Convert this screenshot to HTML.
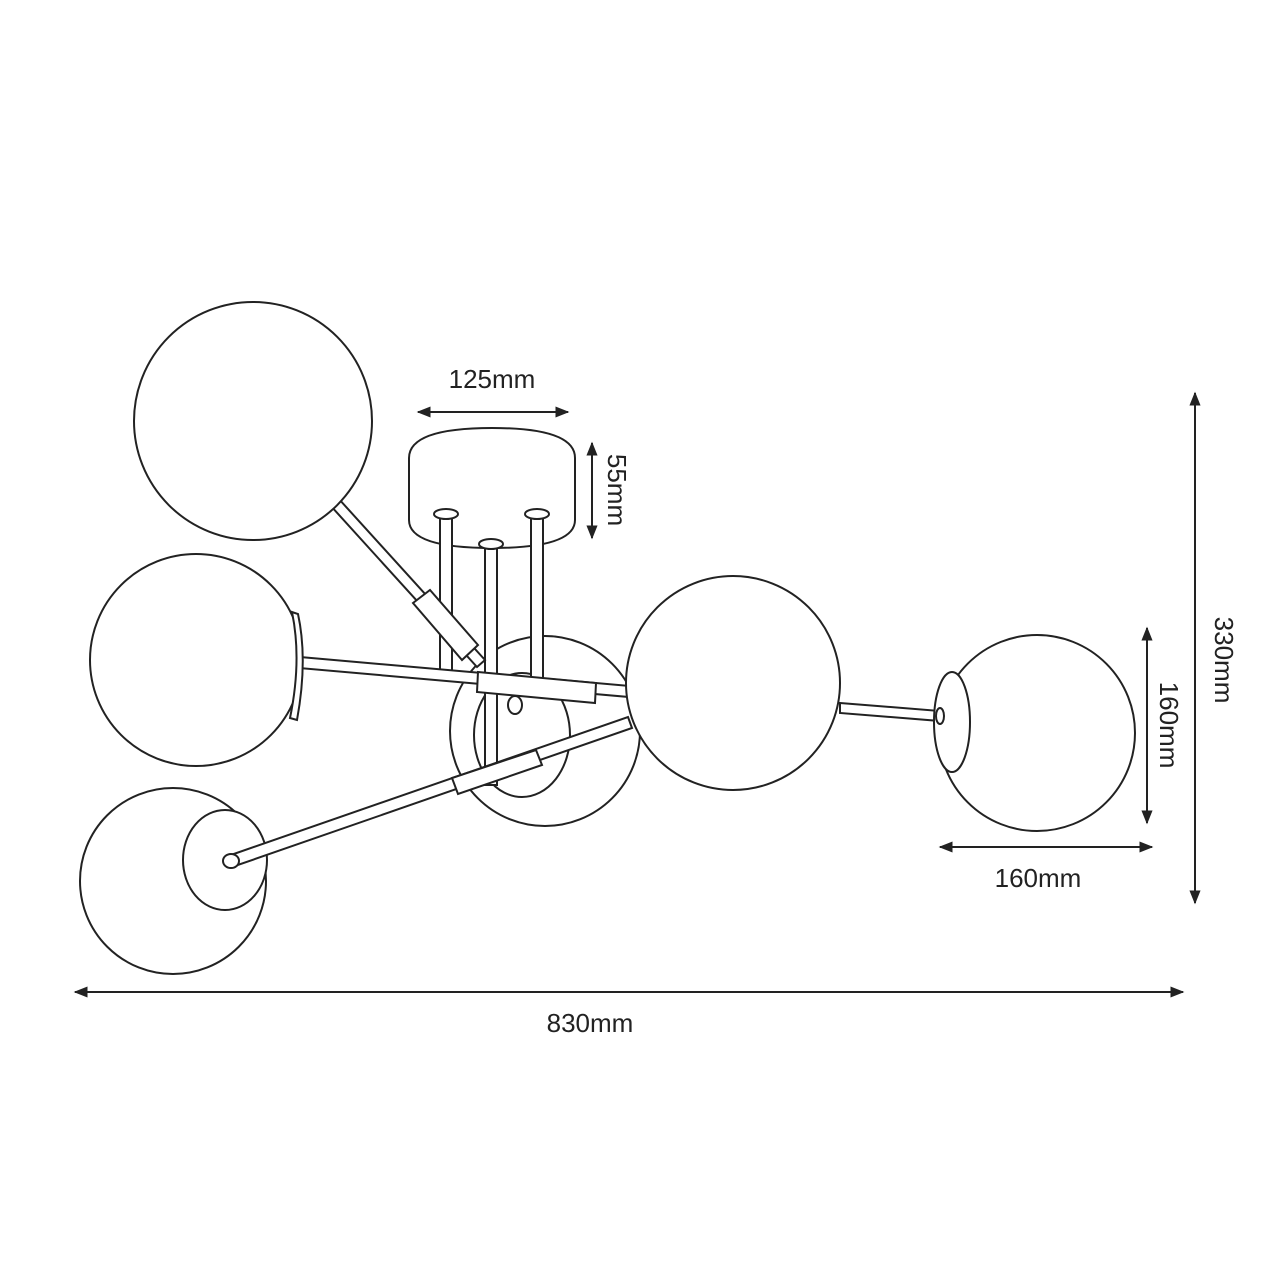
<!DOCTYPE html>
<html><head><style>html,body{margin:0;padding:0;background:#fff}svg{display:block}text{font-family:"Liberation Sans",sans-serif;font-size:26px;fill:#222}</style></head><body>
<svg width="1280" height="1280" viewBox="0 0 1280 1280" xmlns="http://www.w3.org/2000/svg">
<defs><marker id="a" viewBox="0 0 10 10" refX="9" refY="5" markerWidth="7" markerHeight="7" orient="auto-start-reverse"><path d="M0,1 L10,5 L0,9 z" fill="#222"/></marker></defs>
<g fill="#fff" stroke="#222" stroke-width="2">
<!-- back center globe -->
<circle cx="545" cy="731" r="95"/>
<ellipse cx="522" cy="735" rx="48" ry="62"/>
<!-- canopy -->
<path d="M409,458 Q409,428 492,428 Q575,428 575,458 L575,520 Q575,548 492,548 Q409,548 409,520 z"/>
<!-- rods -->
<rect x="440" y="515" width="12" height="160"/>
<rect x="485" y="545" width="12" height="240"/>
<rect x="531" y="515" width="12" height="165"/>
<ellipse cx="446" cy="514" rx="12" ry="5"/><ellipse cx="491" cy="544" rx="12" ry="5"/><ellipse cx="537" cy="514" rx="12" ry="5"/>
<!-- diagonal top arm -->
<path d="M330,505 L338,498 L485,660 L477,667 z"/>
<path d="M413,603 L430,590 L478,645 L462,660 z"/>
<!-- top-left globe -->
<circle cx="253" cy="421" r="119"/>
<!-- horizontal arm -->
<path d="M300,657 L630,686 L629,697 L299,668 z"/>
<path d="M478,672 L596,683 L595,703 L477,692 z"/>
<ellipse cx="515" cy="705" rx="7" ry="9"/>
<!-- mid-left globe -->
<circle cx="196" cy="660" r="106"/>
<path d="M292,612 Q302,660 290,718 L297,720 Q308,660 298,614 z"/>
<!-- center-right globe -->
<circle cx="733" cy="683" r="107"/>
<!-- bottom-left globe -->
<circle cx="173" cy="881" r="93"/>
<ellipse cx="225" cy="860" rx="42" ry="50"/>
<!-- lower arm -->
<path d="M228,856 L628,717 L632,728 L232,867 z"/>
<path d="M452,778 L536,750 L542,765 L458,794 z"/>
<ellipse cx="231" cy="861" rx="8" ry="7"/>
<!-- right arm and globe -->
<path d="M840,703 L940,711 L940,721 L840,713 z"/>
<circle cx="1037" cy="733" r="98"/>
<ellipse cx="952" cy="722" rx="18" ry="50"/>
<ellipse cx="940" cy="716" rx="4" ry="8"/>
</g>
<g stroke="#222" stroke-width="2" fill="none" marker-start="url(#a)" marker-end="url(#a)">
<line x1="418" y1="412" x2="568" y2="412"/>
<line x1="592" y1="443" x2="592" y2="538"/>
<line x1="1195" y1="393" x2="1195" y2="903"/>
<line x1="1147" y1="628" x2="1147" y2="823"/>
<line x1="940" y1="847" x2="1152" y2="847"/>
<line x1="75" y1="992" x2="1183" y2="992"/>
</g>
<text x="492" y="388" text-anchor="middle">125mm</text>
<text transform="translate(608,490) rotate(90)" text-anchor="middle">55mm</text>
<text transform="translate(1215,660) rotate(90)" text-anchor="middle">330mm</text>
<text transform="translate(1160,725) rotate(90)" text-anchor="middle">160mm</text>
<text x="1038" y="887" text-anchor="middle">160mm</text>
<text x="590" y="1032" text-anchor="middle">830mm</text>
</svg>
</body></html>
